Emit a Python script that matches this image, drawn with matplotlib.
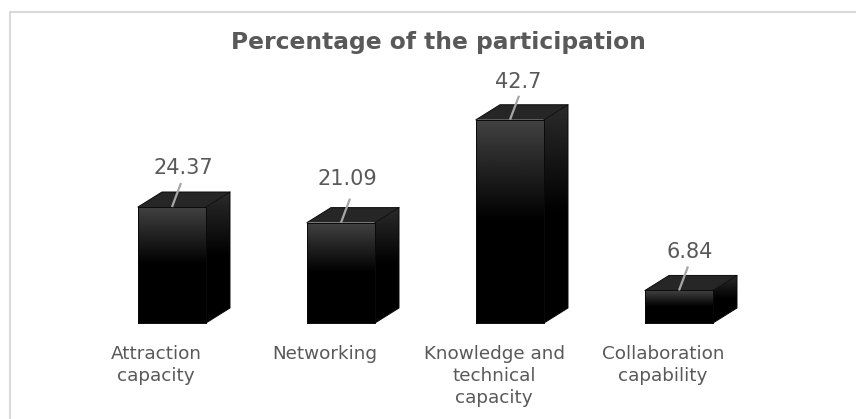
import numpy as np
import matplotlib
matplotlib.use('Agg')
import matplotlib.pyplot as plt
from matplotlib.patches import Polygon

categories = ['Attraction\ncapacity', 'Networking', 'Knowledge and\ntechnical\ncapacity', 'Collaboration\ncapability']
values = [24.37, 21.09, 42.7, 6.84]
value_labels = ['24.37', '21.09', '42.7', '6.84']
title = 'Percentage of the participation'

W, H = 856, 419
SPACING = 169.0    # px between categories
UNIT = 4.76        # px per percentage point
X0, Y0 = 172, 323  # pixel of first bar centre / baseline

# 3d look, in data units
BAR_W = 68 / SPACING
DX = 24 / SPACING
DY = 15 / UNIT

# value labels were nudged by hand in the original (px from bar top centre)
label_dx = [11, 6, 8.5, 10.5]
label_dy = [39, 44, 38, 38]

TEXT = '#595959'


def face_gradient(ax, poly, c_top, stop=0.5):
    """Fill a polygon with a vertical grey ramp which reaches black at stop"""
    n = 200
    t = np.linspace(0, 1, n)
    v = np.clip(c_top * (1 - t / stop), 0, 1).reshape(n, 1)
    xs = [p[0] for p in poly]
    ys = [p[1] for p in poly]
    im = ax.imshow(v, cmap='gray', vmin=0, vmax=1, aspect='auto',
                   extent=[min(xs), max(xs), min(ys), max(ys)], zorder=2)
    patch = Polygon(poly, closed=True, transform=ax.transData, fc='none', ec='none')
    ax.add_patch(patch)
    im.set_clip_path(patch)


fig = plt.figure(figsize=(W / 100, H / 100), dpi=100)
ax = fig.add_axes([0, 0, 1, 1])

for i, v in enumerate(values):
    l = i - BAR_W / 2
    r = i + BAR_W / 2

    # front and side faces
    front = [(l, 0), (r, 0), (r, v), (l, v)]
    side = [(r, 0), (r + DX, DY), (r + DX, v + DY), (r, v)]
    top = [(l, v), (r, v), (r + DX, v + DY), (l + DX, v + DY)]
    face_gradient(ax, front, 0.26)
    face_gradient(ax, side, 0.17)
    ax.add_patch(Polygon(top, closed=True, fc='#262626', ec='none', zorder=3))

    # thin edges
    ax.plot([l, r, r, l, l], [0, 0, v, v, 0], color='#0a0a0a', lw=0.7, zorder=4)
    ax.plot([r, r + DX, r + DX, l + DX, l], [v, v + DY, v + DY, v + DY, v], color='#0a0a0a', lw=0.7, zorder=4)
    ax.plot([r, r + DX, r + DX], [0, DY, v + DY], color='#0a0a0a', lw=0.7, zorder=4)

    # leader line and value
    ax.plot([i, i + 9 / SPACING], [v, v + 24 / UNIT], color='#a6a6a6', lw=1.6, zorder=5,
            solid_capstyle='butt')
    ax.text(i + label_dx[i] / SPACING, v + label_dy[i] / UNIT, value_labels[i], ha='center', va='center',
            fontsize=15, color=TEXT, family='DejaVu Sans', zorder=6)

    # category label, lines spaced by hand like the original
    for k, line in enumerate(categories[i].split('\n')):
        ax.text(i - 16 / SPACING, (Y0 - 354 - 22 * k) / UNIT, line, ha='center', va='center',
                fontsize=13.2, color=TEXT, family='DejaVu Sans')

ax.text((438 - X0) / SPACING, (Y0 - 42) / UNIT, title, ha='center', va='center',
        fontsize=16.8, fontweight='bold', color=TEXT, family='DejaVu Sans')

ax.set_xlim(-X0 / SPACING, (W - X0) / SPACING)
ax.set_ylim((Y0 - H) / UNIT, Y0 / UNIT)
ax.axis('off')

# chart frame, runs off the right and bottom of the picture
ax.plot([(9.5 - X0) / SPACING, (9.5 - X0) / SPACING, (W - X0) / SPACING],
        [(Y0 - H) / UNIT, (Y0 - 12.5) / UNIT, (Y0 - 12.5) / UNIT],
        color='#d9d9d9', lw=1.5, clip_on=False)

fig.savefig('out.png', dpi=100)
